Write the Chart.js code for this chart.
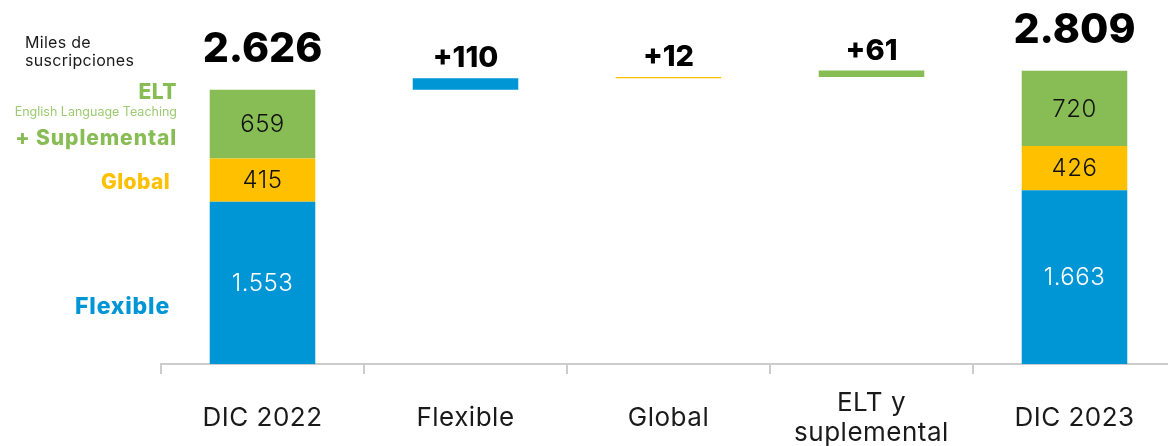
<!DOCTYPE html>
<html>
<head>
<meta charset="utf-8">
<script src="https://cdn.jsdelivr.net/npm/chart.js@4"></script>
<style>
  html, body { margin:0; padding:0; background:#fff; overflow:hidden; }
  #wrap { width:1176px; height:446px; }
</style>
</head>
<body>
<div id="wrap"><canvas id="grafico" width="1176" height="446"></canvas></div>
<script>
const categorias = ["DIC 2022", "Flexible", "Global", ["ELT y", "suplemental"], "DIC 2023"];
const flexible = [1553, 110, 0, 0, 1663];
const global = [415, 0, 12, 0, 426];
const elt = [659, 0, 0, 61, 720];
const esTotal = [true, false, false, false, true];
const etiquetaTotal = ["2.626", "+110", "+12", "+61", "2.809"];

const FONT = "Inter, 'Open Sans', sans-serif";
const AZUL = "#0096d6", AMARILLO = "#ffc000", VERDE = "#88bd55";

function fmt(n) {
  return String(n).replace(/\B(?=(\d{3})+(?!\d))/g, ".");
}

// base invisible para las barras flotantes
let acumulado = 0;
const base = categorias.map((_, i) => {
  const suma = flexible[i] + global[i] + elt[i];
  if (esTotal[i]) { acumulado = suma; return 0; }
  const b = acumulado;
  acumulado += suma;
  return b;
});
const totales = categorias.map((_, i) => flexible[i] + global[i] + elt[i]);

function texto(ctx, t, x, y, font, color, esp) {
  ctx.font = font;
  ctx.fillStyle = color;
  ctx.letterSpacing = (esp || 0) + "px";
  ctx.fillText(t, x, y);
}

const etiquetas = {
  id: "etiquetas",
  afterDatasetsDraw(chart) {
    const ctx = chart.ctx;
    const x = chart.scales.x, y = chart.scales.y;
    ctx.save();
    ctx.textAlign = "center";
    ctx.textBaseline = "middle";
    // valores dentro de las barras
    const series = [[flexible, "#fff"], [global, "#111"], [elt, "#111"]];
    categorias.forEach((_, i) => {
      if (!esTotal[i]) return;
      let desde = 0;
      series.forEach(([arr, color]) => {
        const v = arr[i];
        const yc = (y.getPixelForValue(desde) + y.getPixelForValue(desde + v)) / 2;
        texto(ctx, fmt(v), x.getPixelForValue(i), yc + 1, "300 24px " + FONT, color, 0.5);
        desde += v;
      });
    });
    // totales y variaciones
    ctx.textBaseline = "alphabetic";
    categorias.forEach((_, i) => {
      const top = y.getPixelForValue(base[i] + totales[i]);
      if (esTotal[i]) {
        texto(ctx, etiquetaTotal[i], x.getPixelForValue(i), top - 28, "800 41px " + FONT, "#000", 0);
      } else {
        texto(ctx, etiquetaTotal[i], x.getPixelForValue(i), top - 11, "800 29px " + FONT, "#000", 0);
      }
    });
    // etiquetas eje x
    categorias.forEach((c, i) => {
      const lineas = Array.isArray(c) ? c : [c];
      const cx = x.getPixelForValue(i);
      const y0 = 426 - (lineas.length - 1) * 15;
      lineas.forEach((l, k) => texto(ctx, l, cx, y0 + k * 30, "400 26px " + FONT, "#1a1a1a", 0.5));
    });
    // leyenda a la izquierda
    ctx.textAlign = "left";
    texto(ctx, "Miles de", 25, 48, "400 16px " + FONT, "#1a1a1a", 0.3);
    texto(ctx, "suscripciones", 25, 66, "400 16px " + FONT, "#1a1a1a", 0.3);
    ctx.textAlign = "right";
    texto(ctx, "ELT", 177, 99, "800 21px " + FONT, VERDE, 0.5);
    texto(ctx, "English Language Teaching", 177, 116, "400 12.5px " + FONT, "#9ccb72", 0);
    texto(ctx, "+ Suplemental", 177, 145, "800 21px " + FONT, VERDE, 0.9);
    texto(ctx, "Global", 170, 189, "800 21px " + FONT, AMARILLO, 0.4);
    texto(ctx, "Flexible", 170, 314, "800 23px " + FONT, AZUL, 0.8);
    ctx.restore();
  }
};

new Chart(document.getElementById("grafico"), {
  type: "bar",
  data: {
    labels: categorias,
    datasets: [
      { label: "base", data: base, backgroundColor: "rgba(0,0,0,0)" },
      { label: "Flexible", data: flexible, backgroundColor: AZUL },
      { label: "Global", data: global, backgroundColor: AMARILLO },
      { label: "ELT + Suplemental", data: elt, backgroundColor: VERDE }
    ]
  },
  options: {
    responsive: false,
    animation: false,
    layout: { padding: { left: 161, right: 0, top: 9, bottom: 0 } },
    datasets: { bar: { barPercentage: 0.52, categoryPercentage: 1, borderWidth: 0 } },
    plugins: { legend: { display: false }, tooltip: { enabled: false } },
    scales: {
      x: {
        stacked: true,
        grid: { display: true, drawOnChartArea: false, offset: true, tickLength: 10, color: "#cccccc", lineWidth: 2 },
        border: { display: true, color: "#cccccc", width: 2 },
        ticks: { display: false },
        afterFit(scale) { scale.height = 82; }
      },
      y: {
        stacked: true,
        display: false,
        min: 0,
        max: 3400
      }
    }
  },
  plugins: [etiquetas]
});
</script>
</body>
</html>
